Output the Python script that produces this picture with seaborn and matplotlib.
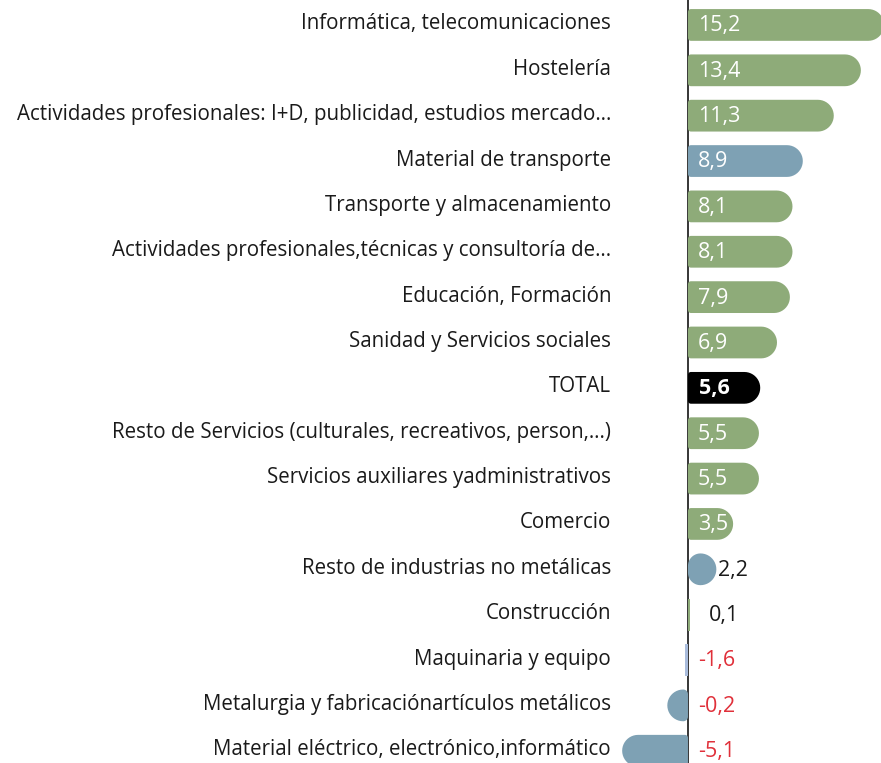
import numpy as np
import seaborn as sns
import matplotlib.pyplot as plt
from matplotlib.patches import Polygon
from matplotlib.transforms import ScaledTranslation

sns.set_theme(style="white")
plt.rcParams["font.family"] = ["Open Sans", "DejaVu Sans"]

categories = [
    "Informática, telecomunicaciones",
    "Hostelería",
    "Actividades profesionales: I+D, publicidad, estudios mercado…",
    "Material de transporte",
    "Transporte y almacenamiento",
    "Actividades profesionales,técnicas y consultoría de…",
    "Educación, Formación",
    "Sanidad y Servicios sociales",
    "TOTAL",
    "Resto de Servicios (culturales, recreativos, person,…)",
    "Servicios auxiliares yadministrativos",
    "Comercio",
    "Resto de industrias no metálicas",
    "Construcción",
    "Maquinaria y equipo",
    "Metalurgia y fabricaciónartículos metálicos",
    "Material eléctrico, electrónico,informático",
]
# bar lengths as drawn in the picture
values = [15.2, 13.4, 11.3, 8.9, 8.1, 8.1, 7.9, 6.9, 5.6, 5.5, 5.5, 3.5, 2.2, 0.1, -0.2, -1.6, -5.1]
# labels as printed in the picture
value_labels = ["15,2", "13,4", "11,3", "8,9", "8,1", "8,1", "7,9", "6,9", "5,6", "5,5",
                "5,5", "3,5", "2,2", "0,1", "-1,6", "-0,2", "-5,1"]
groups = ["serv", "serv", "serv", "ind", "serv", "serv", "serv", "serv", "total", "serv",
          "serv", "serv", "ind", "serv", "maq", "ind", "ind"]

COLOURS = {"serv": "#8eab79", "ind": "#7ea1b4", "total": "#000000", "maq": "#a9bcdc"}

fig = plt.figure(figsize=(8.81, 7.63), dpi=100)
ax = fig.add_axes([617 / 881, 0, 264 / 881, 1])

sns.barplot(x=values, y=categories, hue=categories,
            palette=[COLOURS[g] for g in groups], legend=False, saturation=1,
            orient="h", width=0.7, ax=ax)
ax.set_xlim(-5.5, 14.96)
ax.set_ylim(16.27, -0.55)
for s in ax.spines.values():
    s.set_visible(False)
ax.set_xticks([])
ax.set_xlabel("")
ax.set_ylabel("")
ax.tick_params(axis="y", length=0, pad=4.3, labelsize=14.8, labelcolor="#1a1a1a")
for lbl in ax.get_yticklabels():
    lbl.set_transform(lbl.get_transform() + ScaledTranslation(0, 2.5 / 72, fig.dpi_scale_trans))
ax.axvline(0, color="black", lw=1.1, zorder=2)

fig.canvas.draw()
sx = ax.transData.transform((1, 0))[0] - ax.transData.transform((0, 0))[0]
sy = abs(ax.transData.transform((0, 1))[1] - ax.transData.transform((0, 0))[1])


def arc(cx, cy, rx, ry, a0, a1):
    t = np.linspace(np.radians(a0), np.radians(a1), 12)
    return np.column_stack([cx + rx * np.cos(t), cy + ry * np.sin(t)])


def rounded_bar(L, R, B, T, rl, rr):
    # rl, rr: corner radii in pixels for left/right end
    pts = np.vstack([
        arc(R - rr / sx, B + rr / sy, rr / sx, rr / sy, -90, 0),
        arc(R - rr / sx, T - rr / sy, rr / sx, rr / sy, 0, 90),
        arc(L + rl / sx, T - rl / sy, rl / sx, rl / sy, 90, 180),
        arc(L + rl / sx, B + rl / sy, rl / sx, rl / sy, 180, 270),
    ])
    return pts


for p, v in zip(ax.patches, values):
    x, y, w, h = p.get_x(), p.get_y(), p.get_width(), p.get_height()
    L, R = min(x, x + w), max(x, x + w)
    B, T = min(y, y + h), max(y, y + h)
    if 0 < v < 0.5:
        # very thin bar, keep it visible right of the zero line
        L, R = L + 0.04, R + 0.04
    wpx = (R - L) * sx
    outer = min(h * sy / 2, wpx)
    inner = max(0, min(3, wpx - outer)) if wpx > 40 else max(0, wpx - outer)
    if wpx < 4:
        outer = inner = 0
    rl, rr = (inner, outer) if v >= 0 else (outer, inner)
    poly = Polygon(rounded_bar(L, R, B, T, rl, rr), closed=True,
                   facecolor=p.get_facecolor(), edgecolor="none", clip_on=False, zorder=3)
    p.set_visible(False)
    ax.add_patch(poly)

for i, (v, lab, g) in enumerate(zip(values, value_labels, groups)):
    if g == "total":
        ax.text(0.85, i + 0.02, lab, color="white", fontsize=15.5, fontweight="bold",
                va="center", ha="left", zorder=6)
    elif lab.startswith("-"):
        ax.text(0.8, i + 0.02, lab, color="#e0303a", fontsize=15.5, va="center", ha="left", zorder=6)
    elif v >= 3:
        ax.text(0.75, i + 0.02, lab, color="white", fontsize=15.5, va="center", ha="left", zorder=6)
    else:
        ax.text(max(v + 0.1, 1.65), i + 0.02, lab, color="#1a1a1a", fontsize=15.5,
                va="center", ha="left", zorder=6)

fig.savefig("out.png", dpi=100)
